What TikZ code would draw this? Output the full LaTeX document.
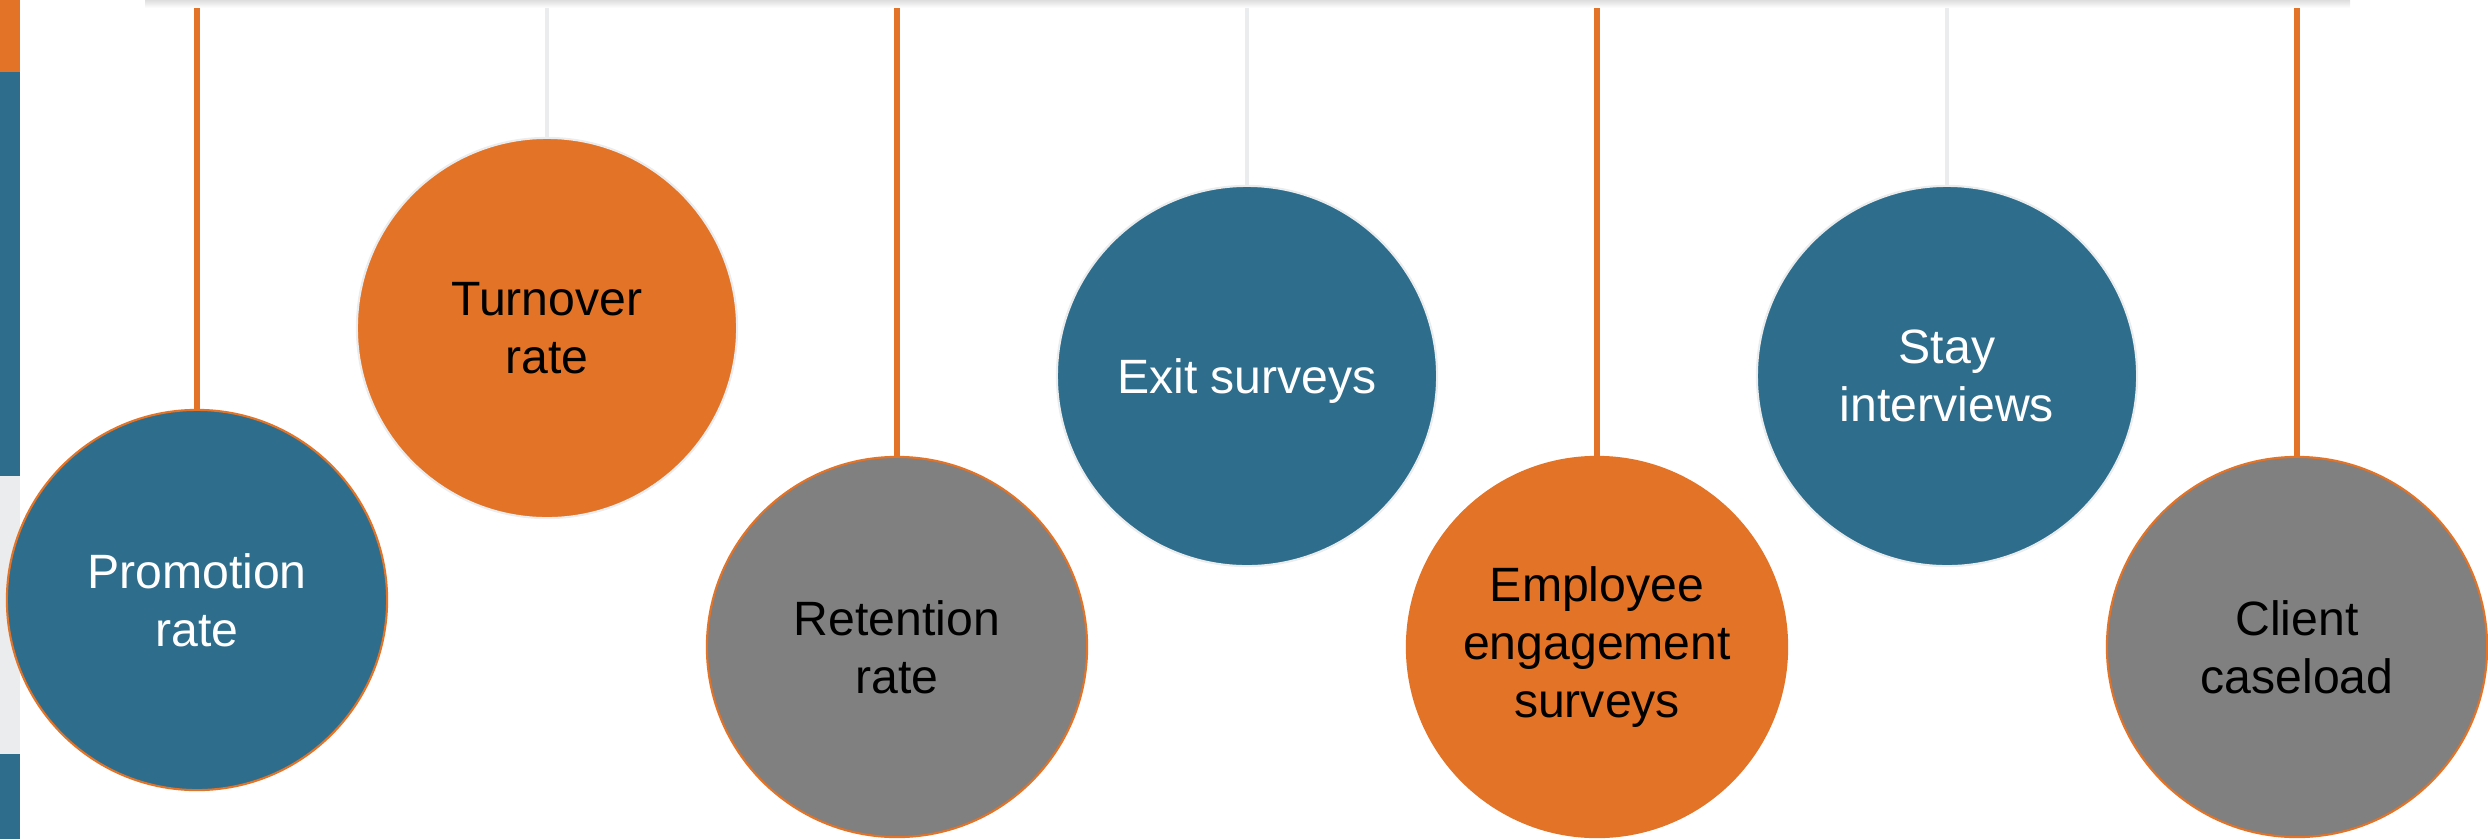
\documentclass[tikz,border=0pt]{standalone}
\usepackage{fontspec}
\setmainfont{Liberation Sans}
\usetikzlibrary{positioning}
\usepackage{xcolor}

\definecolor{tealblue}{RGB}{46,110,140}
\definecolor{rustorange}{RGB}{227,115,38}
\definecolor{midgray}{RGB}{128,128,128}
\definecolor{palegray}{RGB}{235,236,238}

\begin{document}
\begin{tikzpicture}[
    x=0.01cm, y=-0.01cm,
    every node/.style={font=\fontsize{13.7}{16.5}\selectfont},
    bubble/.style={circle, align=center, inner sep=0pt, minimum size=3.8cm, line width=0.6pt},
    lowbub/.style={bubble, draw=rustorange},
    highbub/.style={bubble, draw=palegray},
    bluefill/.style={fill=tealblue, text=white},
    orangefill/.style={fill=rustorange, text=black},
    grayfill/.style={fill=midgray, text=black},
    orangecord/.style={draw=rustorange, line width=1.7pt},
    graycord/.style={draw=palegray, line width=1.4pt}
  ]
  \useasboundingbox (0,0) rectangle (2488,839);

  % side strip and the shadow of the bar above
  \fill[rustorange] (0,0) rectangle (20,72);
  \fill[tealblue] (0,72) rectangle (20,476);
  \fill[palegray] (0,476) rectangle (20,754);
  \fill[tealblue] (0,754) rectangle (20,839);
  \shade[top color=black!13, bottom color=white] (145,0) rectangle (2350,8);

  % the bubbles
  \node[lowbub, bluefill] (promo) at (197,600) {Promotion\\rate};
  \node[highbub, orangefill] (turn) at (547,328) {Turnover\\rate};
  \node[lowbub, grayfill] (reten) at (897,647) {Retention\\rate};
  \node[highbub, bluefill, text height=12.8pt, text depth=2.9pt] (exit) at (1247,376) {Exit surveys};
  \node[lowbub, orangefill] (engage) at (1597,647) {Employee\\engagement\\surveys};
  \node[highbub, bluefill] (stay) at (1947,376) {Stay\\interviews};
  \node[lowbub, grayfill] (client) at (2297,647) {Client\\caseload};

  % cords hanging from the top
  \coordinate (promo top) at (197,8);
  \coordinate (turn top) at (547,8);
  \coordinate (reten top) at (897,8);
  \coordinate (exit top) at (1247,8);
  \coordinate (engage top) at (1597,8);
  \coordinate (stay top) at (1947,8);
  \coordinate (client top) at (2297,8);

  \draw[orangecord] (promo top) -- (promo.north);
  \draw[graycord] (turn top) -- (turn.north);
  \draw[orangecord] (reten top) -- (reten.north);
  \draw[graycord] (exit top) -- (exit.north);
  \draw[orangecord] (engage top) -- (engage.north);
  \draw[graycord] (stay top) -- (stay.north);
  \draw[orangecord] (client top) -- (client.north);

\end{tikzpicture}
\end{document}
